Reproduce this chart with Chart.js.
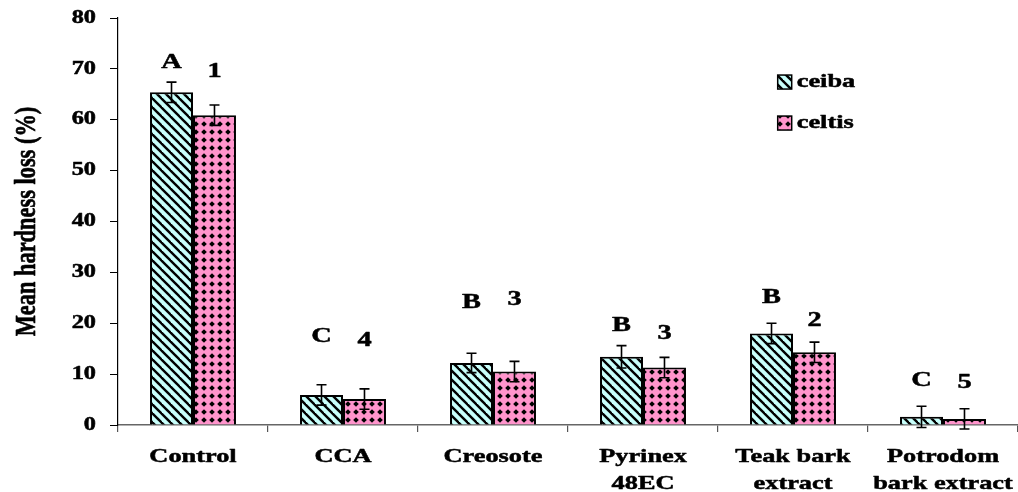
<!DOCTYPE html>
<html><head><meta charset="utf-8">
<script src="https://cdn.jsdelivr.net/npm/chart.js@4"></script>
<style>html,body{margin:0;padding:0;background:#fff}#wrap{width:1018px;height:492px}</style>
</head><body><div id="wrap"><canvas id="c" width="1018" height="492"></canvas></div>
<script>
const categories = [["Control"],["CCA"],["Creosote"],["Pyrinex","48EC"],["Teak bark","extract"],["Potrodom","bark extract"]];
const seriesNames = ["ceiba","celtis"];
const ceiba = [65.4, 5.9, 12.2, 13.4, 18.0, 1.6];
const celtis = [60.9, 5.1, 10.5, 11.3, 14.3, 1.2];
const ceibaErr = [2.0, 2.0, 1.9, 2.2, 2.0, 2.1];
const celtisErr = [2.0, 2.0, 2.0, 2.0, 2.0, 2.0];
const ceibaLetters = ["A","C","B","B","B","C"];
const celtisLetters = ["1","4","3","3","2","5"];
const ceibaLetterAt = [71.3, 17.3, 24.0, 19.5, 25.1, 8.8];
const celtisLetterAt = [69.4, 16.5, 24.6, 17.9, 20.6, 8.4];
const yTicks = [0,10,20,30,40,50,60,70,80];

const canvas=document.getElementById('c');
const mainCtx=canvas.getContext('2d');
// the reference text is horizontally widened and heavy; widen every glyph run about its anchor
const SX=1.35;
const origFill=mainCtx.fillText.bind(mainCtx);
const origStroke=mainCtx.strokeText.bind(mainCtx);
mainCtx.fillText=function(t,x,y,mw){
  const m=this.getTransform();
  const p=m.transformPoint(new DOMPoint(x,y));
  this.save();
  this.setTransform(new DOMMatrix().translate(p.x,p.y).scale(SX,1).translate(-p.x,-p.y).multiply(m));
  if(mw===undefined) origFill(t,x,y); else origFill(t,x,y,mw);
  this.strokeStyle=this.fillStyle;this.lineWidth=0.5;this.lineJoin='round';this.setLineDash([]);
  if(mw===undefined) origStroke(t,x,y); else origStroke(t,x,y,mw);
  this.restore();
};

function stripePattern(){
  const c=document.createElement('canvas');c.width=9;c.height=9;const g=c.getContext('2d');
  g.fillStyle='#c8fffb';g.fillRect(0,0,9,9);
  g.strokeStyle='#000';g.lineWidth=2.4;
  for(let k=-2;k<=2;k++){g.beginPath();g.moveTo(k*9-5,-5);g.lineTo(k*9+14,14);g.stroke();}
  return mainCtx.createPattern(c,'repeat');
}
function dotPattern(){
  const c=document.createElement('canvas');c.width=8;c.height=8;const g=c.getContext('2d');
  g.fillStyle='#ff94cc';g.fillRect(0,0,8,8);
  g.fillStyle='#000';
  g.beginPath();g.moveTo(4,1.2);g.lineTo(6.8,4);g.lineTo(4,6.8);g.lineTo(1.2,4);g.closePath();g.fill();
  return mainCtx.createPattern(c,'repeat');
}
const pat1=stripePattern(), pat2=dotPattern();
const FONT="'Liberation Serif','Times New Roman',serif";

const extras={id:'extras',afterDatasetsDraw(chart){
  const ctx=chart.ctx, y=chart.scales.y;
  const errs=[ceibaErr,celtisErr], lets=[ceibaLetters,celtisLetters], lat=[ceibaLetterAt,celtisLetterAt];
  ctx.save();
  [0,1].forEach(di=>{
    const meta=chart.getDatasetMeta(di);
    meta.data.forEach((bar,i)=>{
      const v=chart.data.datasets[di].data[i], e=errs[di][i];
      const x=bar.x, yt=y.getPixelForValue(v+e), yb=y.getPixelForValue(v-e);
      ctx.strokeStyle='#000';ctx.lineWidth=1.6;
      ctx.beginPath();ctx.moveTo(x,yt);ctx.lineTo(x,yb);
      ctx.moveTo(x-5,yt);ctx.lineTo(x+5,yt);
      ctx.moveTo(x-5,yb);ctx.lineTo(x+5,yb);ctx.stroke();
      ctx.fillStyle='#000';ctx.font='bold 21px '+FONT;ctx.textAlign='center';ctx.textBaseline='middle';
      ctx.fillText(lets[di][i],x,y.getPixelForValue(lat[di][i]));
    });
  });
  // legend
  const ca=chart.chartArea;
  const lx=ca.left+(ca.right-ca.left)*0.733, ly0=ca.top+64;
  [pat1,pat2].forEach((p,k)=>{
    const yy=ly0+k*41;
    ctx.fillStyle=p;ctx.fillRect(lx,yy-7,14,14);
    ctx.strokeStyle='#000';ctx.lineWidth=1.5;ctx.strokeRect(lx,yy-7,14,14);
    ctx.fillStyle='#000';ctx.font='bold 19.5px '+FONT;ctx.textAlign='left';ctx.textBaseline='middle';
    ctx.fillText(seriesNames[k],lx+19,yy);
  });
  ctx.restore();
}};

new Chart(canvas,{
  type:'bar',
  data:{labels:categories,datasets:[
    {label:seriesNames[0],data:ceiba,backgroundColor:pat1,borderColor:'#000',borderWidth:2,categoryPercentage:0.573,barPercentage:1.0},
    {label:seriesNames[1],data:celtis,backgroundColor:pat2,borderColor:'#000',borderWidth:2,categoryPercentage:0.573,barPercentage:1.0}
  ]},
  options:{responsive:false,animation:false,
    layout:{padding:{top:0,right:0,left:16,bottom:0}},
    plugins:{legend:{display:false},tooltip:{enabled:false}},
    scales:{
      x:{grid:{display:true,drawOnChartArea:false,offset:true,tickLength:7,color:'#555',lineWidth:1.2},
         border:{color:'#666',width:1.5},
         afterFit(ax){ax.height=67;},
         ticks:{color:'#000',font:{family:FONT,size:19.5,weight:'bold',lineHeight:1.4},padding:11,maxRotation:0,autoSkip:false}},
      y:{min:0,max:80,afterBuildTicks(ax){ax.ticks=yTicks.map(v=>({value:v}));},
         afterFit(ax){ax.width=102;},
         grid:{display:true,drawOnChartArea:false,tickLength:8,color:'#000'},
         border:{color:'#000',width:1.2},
         ticks:{color:'#000',font:{family:FONT,size:18,weight:'bold',lineHeight:0.45},padding:14},
         title:{display:true,text:'Mean hardness loss (%)',color:'#000',font:{family:FONT,size:22.4,weight:'bold',lineHeight:1},padding:{top:0,bottom:30}}}
    }
  },
  plugins:[extras]
});
</script></body></html>
